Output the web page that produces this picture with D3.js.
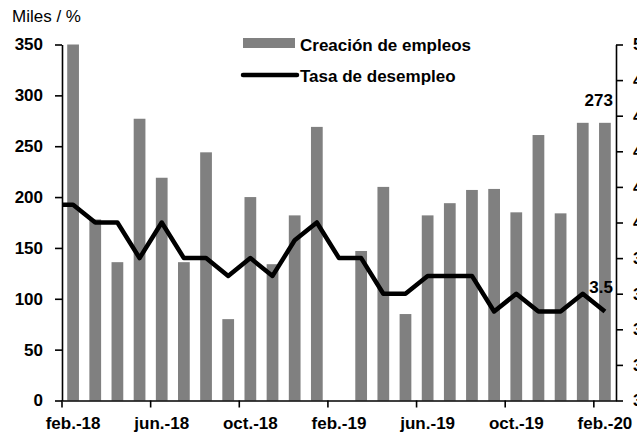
<!DOCTYPE html>
<html>
<head>
<meta charset="utf-8">
<script src="https://cdn.jsdelivr.net/npm/d3@7"></script>
<style>
  body { margin: 0; background: #fff; }
  text { font-family: "Liberation Sans", Arial, sans-serif; }
</style>
</head>
<body>
<div id="root"></div>
<script>
// meses de las barras (feb.-18 .. feb.-20)
var months = ['feb.-18', 'mar.-18', 'abr.-18', 'may.-18', 'jun.-18', 'jul.-18', 'ago.-18', 'sep.-18',
  'oct.-18', 'nov.-18', 'dic.-18', 'ene.-19', 'feb.-19', 'mar.-19', 'abr.-19', 'may.-19', 'jun.-19',
  'jul.-19', 'ago.-19', 'sep.-19', 'oct.-19', 'nov.-19', 'dic.-19', 'ene.-20', 'feb.-20'];
// creacion de empleos, miles
var jobs = [350, 178, 136, 277, 219, 136, 244, 80, 200, 134, 182, 269, 0, 147, 210, 85, 182,
  194, 207, 208, 185, 261, 184, 273, 273];
// tasa de desempleo, %; la serie arranca en ene.-18 (queda recortada por el area)
var rateMonths = ['ene.-18'].concat(months);
var rate = [4.1, 4.1, 4.0, 4.0, 3.8, 4.0, 3.8, 3.8, 3.7, 3.8, 3.7, 3.9, 4.0, 3.8, 3.8, 3.6, 3.6,
  3.7, 3.7, 3.7, 3.5, 3.6, 3.5, 3.5, 3.6, 3.5];
var leftTicks = [0, 50, 100, 150, 200, 250, 300, 350];
var rightTicks = [3.0, 3.2, 3.4, 3.6, 3.8, 4.0, 4.2, 4.4, 4.6, 4.8, 5.0];
var xLabels = ['feb.-18', 'jun.-18', 'oct.-18', 'feb.-19', 'jun.-19', 'oct.-19', 'feb.-20'];

var width = 637;
var height = 440;
var padding = { left: 62, right: 21, top: 44.5, bottom: 39.5 };
var w = width - padding.left - padding.right;
var h = height - padding.top - padding.bottom;
var fontSize = '17px';

var svg = d3.select('#root')
    .append('svg')
    .attr('width', width).attr('height', height);

var g = svg.append('g')
    .attr('transform', 'translate(' + padding.left + ',' + padding.top + ')');

var xBand = d3.scaleBand()
    .domain(months)
    .range([0, w])
    .paddingInner(0.47)
    .paddingOuter(0.235);
var xSlot = d3.scaleLinear().domain([0, months.length]).range([0, w]);
var yLeft = d3.scaleLinear().domain([0, 350]).range([h, 0]);
var yRight = d3.scaleLinear().domain([3, 5]).range([h, 0]);

g.append('clipPath').attr('id', 'plot')
  .append('rect').attr('width', w).attr('height', h);

// barras
g.selectAll('.bar')
    .data(jobs).enter()
    .append('rect')
    .attr('class', 'bar')
    .attr('x', function (d, i) { return xBand(months[i]); })
    .attr('y', function (d) { return yLeft(d); })
    .attr('width', xBand.bandwidth())
    .attr('height', function (d) { return h - yLeft(d); })
    .attr('fill', '#808080');

// linea de desempleo
var line = d3.line()
    .x(function (d, i) { return xSlot(i - 1 + 0.5); })
    .y(function (d) { return yRight(d); });
g.append('path')
    .datum(rate)
    .attr('clip-path', 'url(#plot)')
    .attr('d', line)
    .attr('fill', 'none')
    .attr('stroke', '#000')
    .attr('stroke-width', 4.5)
    .attr('stroke-linejoin', 'round');

// ejes
var yAxis = d3.axisLeft(yLeft).tickValues(leftTicks).tickSize(7).tickSizeOuter(0).tickPadding(12);
var yAxisR = d3.axisRight(yRight).tickValues(rightTicks).tickSize(7).tickSizeOuter(0)
    .tickPadding(10).tickFormat(d3.format('.1f'));
var xAxis = d3.axisBottom(xBand).tickValues(xLabels).tickSize(7).tickSizeOuter(0).tickPadding(9);

var gx = g.append('g').attr('transform', 'translate(0,' + h + ')').call(xAxis);
gx.selectAll('.tick line').attr('x1', -xBand.step() / 2).attr('x2', -xBand.step() / 2);
g.append('g').call(yAxis);
g.append('g').attr('transform', 'translate(' + w + ',0)').call(yAxisR);

g.selectAll('.domain, .tick line').attr('stroke', '#000').attr('stroke-width', 1.6);
g.selectAll('.tick text')
    .attr('fill', '#000')
    .style('font-size', fontSize)
    .style('font-weight', 'bold');

// etiquetas de datos
var last = months.length - 1;
g.append('text')
    .attr('x', xSlot(last + 0.5) + 8)
    .attr('y', yLeft(jobs[last]) - 17)
    .attr('text-anchor', 'end')
    .style('font-size', fontSize).style('font-weight', 'bold')
    .text(jobs[last]);
g.append('text')
    .attr('x', xSlot(last + 0.5) + 8)
    .attr('y', yRight(rate[rate.length - 1]) - 19)
    .attr('text-anchor', 'end')
    .style('font-size', fontSize).style('font-weight', 'bold')
    .text(d3.format('.1f')(rate[rate.length - 1]));

// titulo del eje
svg.append('text')
    .attr('x', 12).attr('y', 22)
    .style('font-size', fontSize)
    .text('Miles / %');

// leyenda
var legend = svg.append('g').attr('transform', 'translate(243,38)');
legend.append('rect')
    .attr('width', 52).attr('height', 10)
    .attr('fill', '#808080');
legend.append('text')
    .attr('x', 57).attr('y', 13)
    .style('font-size', fontSize).style('font-weight', 'bold')
    .text('Creación de empleos');
legend.append('line')
    .attr('x1', 0).attr('x2', 54).attr('y1', 37).attr('y2', 37)
    .attr('stroke', '#000').attr('stroke-width', 4.5)
    .attr('stroke-linecap', 'round');
legend.append('text')
    .attr('x', 57).attr('y', 43.5)
    .style('font-size', fontSize).style('font-weight', 'bold')
    .text('Tasa de desempleo');
</script>
</body>
</html>
